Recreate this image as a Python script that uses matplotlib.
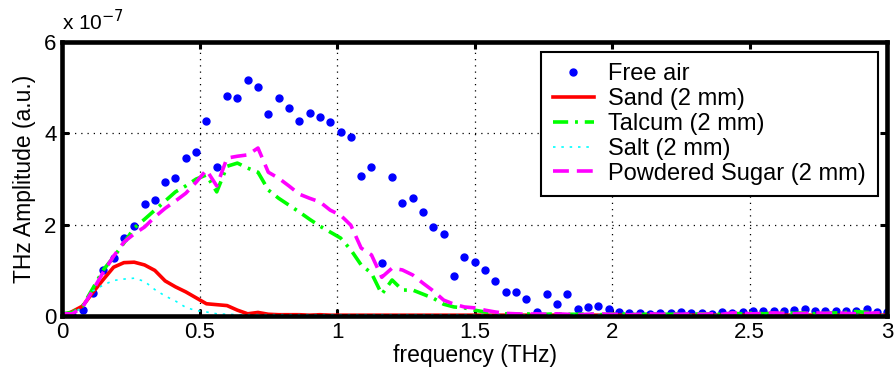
import matplotlib
matplotlib.use("Agg")
import matplotlib.pyplot as plt
import numpy as np

plt.rcParams["font.family"] = ["Liberation Sans", "DejaVu Sans"]

# frequency grid (THz), 81 samples from 0 to 3
freq = np.linspace(0, 3, 81)

# amplitudes in units of 1e-7 (a.u.)
free_air = [0.00, 0.03, 0.13, 0.50, 1.02, 1.27, 1.70, 1.97, 2.45, 2.54,
            2.93, 3.02, 3.46, 3.60, 4.27, 3.27, 4.83, 4.78, 5.17, 5.02,
            4.42, 4.78, 4.56, 4.28, 4.44, 4.36, 4.26, 4.04, 3.93, 3.07,
            3.27, 1.16, 3.04, 2.47, 2.58, 2.27, 1.96, 1.79, 0.88, 1.29,
            1.19, 1.01, 0.77, 0.53, 0.53, 0.38, 0.09, 0.48, 0.27, 0.48,
            0.15, 0.20, 0.21, 0.15, 0.09, 0.06, 0.06, 0.05, 0.07, 0.07,
            0.09, 0.07, 0.07, 0.04, 0.09, 0.07, 0.09, 0.11, 0.11, 0.12,
            0.12, 0.13, 0.15, 0.12, 0.11, 0.11, 0.11, 0.11, 0.15, 0.10,
            0.08]

sand = [0.00, 0.10, 0.22, 0.52, 0.80, 1.07, 1.17, 1.18, 1.12, 1.00,
        0.77, 0.64, 0.53, 0.40, 0.27, 0.25, 0.23, 0.13, 0.05, 0.08,
        0.04, 0.03, 0.03, 0.03, 0.02, 0.03, 0.02, 0.02, 0.02, 0.02,
        0.02, 0.02, 0.02, 0.02, 0.02, 0.02, 0.02, 0.02, 0.02, 0.02,
        0.02, 0.02, 0.02, 0.02, 0.02, 0.02, 0.02, 0.02, 0.02, 0.02,
        0.02, 0.02, 0.02, 0.02, 0.02, 0.02, 0.02, 0.02, 0.02, 0.02,
        0.02, 0.02, 0.02, 0.02, 0.02, 0.02, 0.02, 0.02, 0.02, 0.02,
        0.02, 0.02, 0.02, 0.02, 0.02, 0.02, 0.02, 0.02, 0.02, 0.02,
        0.02]

talcum = [0.05, 0.08, 0.22, 0.61, 1.01, 1.29, 1.60, 1.93, 2.12, 2.32,
          2.52, 2.72, 2.85, 3.00, 3.09, 2.72, 3.28, 3.35, 3.24, 3.15,
          2.76, 2.58, 2.43, 2.28, 2.12, 1.97, 1.84, 1.71, 1.45, 1.12,
          0.94, 0.48, 0.79, 0.57, 0.57, 0.48, 0.39, 0.26, 0.20, 0.18,
          0.13, 0.09, 0.07, 0.05, 0.04, 0.05, 0.03, 0.04, 0.05, 0.04,
          0.04, 0.05, 0.03, 0.04, 0.05, 0.04, 0.03, 0.05, 0.04, 0.04,
          0.05, 0.04, 0.05, 0.04, 0.04, 0.06, 0.05, 0.07, 0.05, 0.06,
          0.08, 0.06, 0.07, 0.05, 0.06, 0.07, 0.08, 0.10, 0.08, 0.07,
          0.06]

salt = [0.00, 0.05, 0.20, 0.55, 0.68, 0.78, 0.81, 0.83, 0.76, 0.58,
        0.44, 0.33, 0.19, 0.12, 0.09, 0.05, 0.04, 0.03, 0.03, 0.03,
        0.03, 0.03, 0.03, 0.03, 0.03, 0.03, 0.03, 0.03, 0.03, 0.03,
        0.03, 0.03, 0.03, 0.03, 0.03, 0.03, 0.03, 0.03, 0.03, 0.03,
        0.03, 0.03, 0.03, 0.03, 0.03, 0.03, 0.03, 0.03, 0.03, 0.03,
        0.03, 0.03, 0.03, 0.03, 0.03, 0.03, 0.03, 0.03, 0.03, 0.03,
        0.03, 0.03, 0.03, 0.03, 0.03, 0.03, 0.03, 0.03, 0.03, 0.03,
        0.03, 0.03, 0.03, 0.03, 0.03, 0.03, 0.03, 0.03, 0.03, 0.03,
        0.03]

sugar = [0.05, 0.05, 0.20, 0.57, 0.96, 1.31, 1.62, 1.80, 1.95, 2.17,
         2.36, 2.52, 2.69, 2.93, 3.20, 2.85, 3.46, 3.50, 3.53, 3.68,
         3.15, 3.02, 2.85, 2.67, 2.58, 2.50, 2.32, 2.21, 1.99, 1.49,
         1.34, 0.85, 1.05, 1.01, 0.90, 0.72, 0.55, 0.35, 0.26, 0.20,
         0.18, 0.13, 0.09, 0.06, 0.05, 0.04, 0.05, 0.04, 0.05, 0.04,
         0.03, 0.04, 0.05, 0.04, 0.04, 0.03, 0.04, 0.05, 0.04, 0.04,
         0.04, 0.05, 0.04, 0.05, 0.04, 0.07, 0.06, 0.05, 0.06, 0.07,
         0.06, 0.05, 0.06, 0.07, 0.06, 0.07, 0.06, 0.05, 0.06, 0.07,
         0.06]

fig = plt.figure(figsize=(8.96, 3.79), dpi=100)
ax = fig.add_axes([0.0692, 0.166, 0.921, 0.723])

ax.plot(freq, free_air, ".", color="#0000ff", markersize=10, label="Free air")
ax.plot(freq, sand, "-", color="#ff0000", linewidth=2.6, label="Sand (2 mm)")
ax.plot(freq, talcum, color="#00ff00", linewidth=2.6,
        dashes=(4.2, 1.9, 0.8, 1.9), label="Talcum (2 mm)")
ax.plot(freq, salt, color="#00ffff", linewidth=1.2,
        dashes=(1.5, 3.5), label="Salt (2 mm)")
ax.plot(freq, sugar, color="#ff00ff", linewidth=2.6,
        dashes=(4.4, 2.2), label="Powdered Sugar (2 mm)")

ax.set_xlim(0, 3)
ax.set_ylim(0, 6)
ax.set_xticks([0, 0.5, 1, 1.5, 2, 2.5, 3])
ax.set_xticklabels(["0", "0.5", "1", "1.5", "2", "2.5", "3"])
ax.set_yticks([0, 2, 4, 6])
ax.tick_params(direction="in", length=5, width=2.2, labelsize=16,
               top=True, right=True, pad=4)
for sp in ax.spines.values():
    sp.set_linewidth(3.3)

ax.grid(True, color="black", linestyle=(0, (1, 4)), linewidth=0.9)

ax.set_xlabel("frequency (THz)", fontsize=16.5, labelpad=1)
ax.set_ylabel("THz Amplitude (a.u.)", fontsize=16.5, labelpad=6)
ax.text(0.0, 1.03, r"x 10$^{-7}$", transform=ax.transAxes, fontsize=15,
        ha="left", va="bottom")

leg = ax.legend(loc="upper right", fontsize=17, frameon=True, fancybox=False,
                edgecolor="black", framealpha=1, handlelength=1.75,
                borderaxespad=0.4, labelspacing=0.12, handletextpad=0.6,
                borderpad=0.5)
leg.get_frame().set_linewidth(1.5)

fig.savefig("out.png", dpi=100)
